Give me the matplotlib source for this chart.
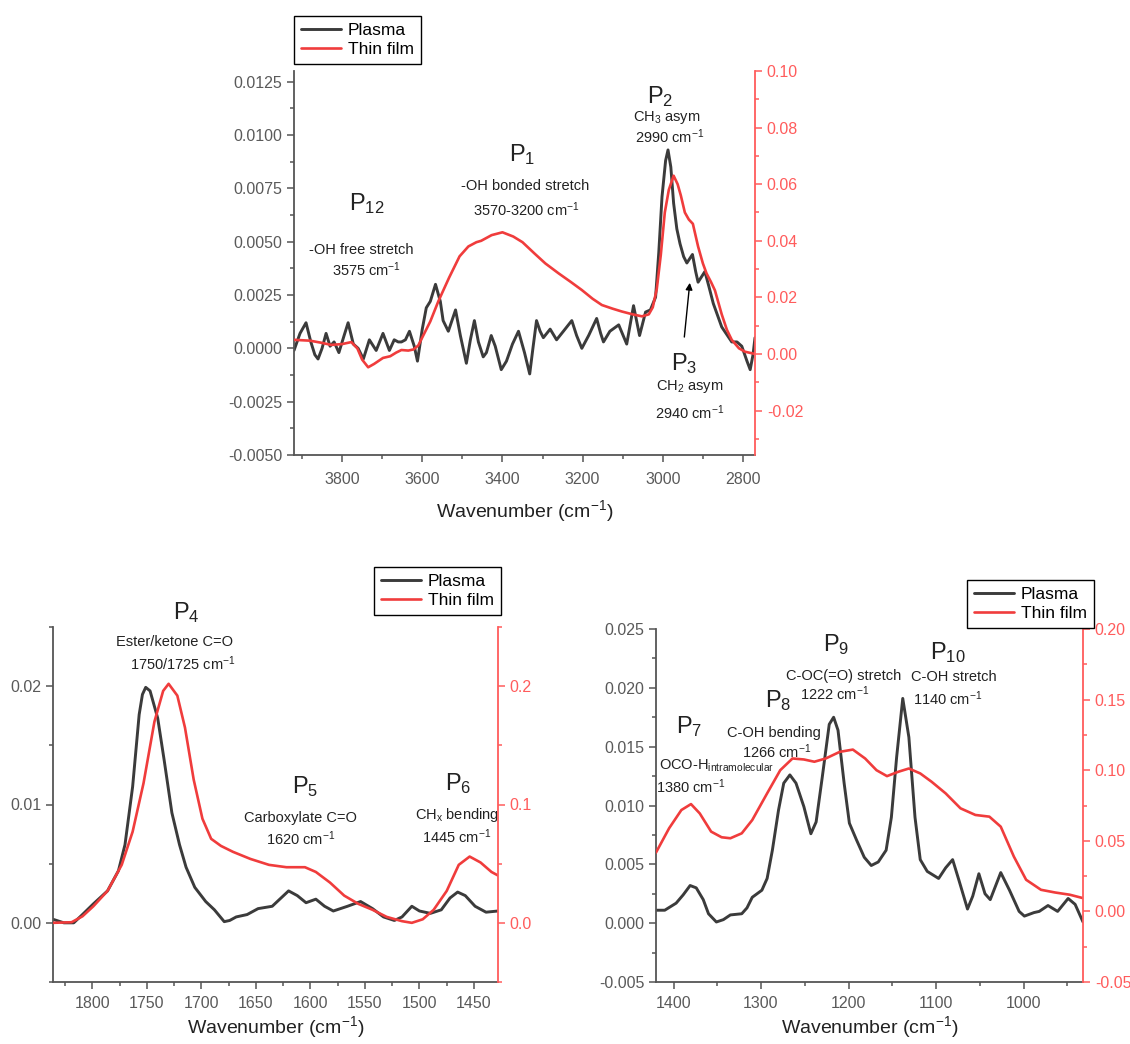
import numpy as np
import matplotlib.pyplot as plt
from matplotlib.ticker import MultipleLocator, FormatStrFormatter

plt.rcParams['font.family'] = ['Liberation Sans', 'DejaVu Sans']
plt.rcParams['mathtext.fontset'] = 'custom'
plt.rcParams['mathtext.rm'] = 'Liberation Sans'
plt.rcParams['mathtext.it'] = 'Liberation Sans:italic'
plt.rcParams['axes.unicode_minus'] = False

# ---- top panel: 3920-2770 cm-1 ----
top_wn_plasma = [3920, 3905, 3890, 3878, 3868, 3860, 3850, 3840, 3830, 3820, 3808, 3795,
                 3785, 3772, 3760, 3747, 3732, 3715, 3698, 3682, 3670, 3660, 3652, 3642,
                 3632, 3620, 3612, 3600, 3590, 3580, 3567, 3555, 3548, 3535, 3517, 3505,
                 3490, 3480, 3470, 3460, 3448, 3440, 3428, 3418, 3403, 3390, 3375, 3360,
                 3345, 3332, 3324, 3315, 3306, 3298, 3281, 3265, 3248, 3227, 3215, 3202,
                 3185, 3165, 3155, 3148, 3132, 3110, 3090, 3073, 3058, 3043, 3031, 3018,
                 3010, 3002, 2993, 2987, 2980, 2973, 2965, 2957, 2948, 2940, 2926, 2918,
                 2912, 2895, 2885, 2874, 2853, 2828, 2815, 2803, 2790, 2782, 2775, 2770]
top_plasma = [-0.0001, 0.0007, 0.0012, 0.0003, -0.0003, -0.0005, 0.0000, 0.0007, 0.0001,
              0.0003, -0.0002, 0.0006, 0.0012, 0.0002, 0.0000, -0.0005, 0.0004, -0.0001,
              0.0007, -0.0001, 0.0004, 0.0003, 0.0003, 0.0004, 0.0008, 0.0001, -0.0006,
              0.0009, 0.0019, 0.0022, 0.0030, 0.0022, 0.0013, 0.0008, 0.0018, 0.0006,
              -0.0007, 0.0004, 0.0013, 0.0003, -0.0004, -0.0002, 0.0006, 0.0001, -0.0010,
              -0.0006, 0.0002, 0.0008, -0.0002, -0.0012, 0.0000, 0.0013, 0.0008, 0.0005,
              0.0009, 0.0004, 0.0008, 0.0013, 0.0006, 0.0000, 0.0006, 0.0014, 0.0007,
              0.0003, 0.0008, 0.0011, 0.0002, 0.0020, 0.0006, 0.0017, 0.0018, 0.0024,
              0.0045, 0.0071, 0.0088, 0.0093, 0.0085, 0.0068, 0.0056, 0.0049, 0.0043,
              0.0040, 0.0044, 0.0036, 0.0031, 0.0036, 0.0029, 0.0021, 0.0010, 0.0003,
              0.0003, 0.0001, -0.0006, -0.0010, -0.0003, 0.0005]
top_wn_film = [3920, 3880, 3853, 3827, 3800, 3777, 3762, 3750, 3735, 3720, 3698, 3680,
               3665, 3652, 3635, 3622, 3610, 3597, 3580, 3560, 3533, 3507, 3485, 3465,
               3453, 3427, 3400, 3373, 3350, 3320, 3293, 3260, 3230, 3202, 3175, 3152,
               3125, 3102, 3075, 3052, 3035, 3025, 3015, 3005, 2995, 2985, 2973, 2963,
               2955, 2945, 2935, 2925, 2912, 2900, 2891, 2880, 2870, 2853, 2840, 2828,
               2810, 2795, 2770]
top_film = [0.0050, 0.0047, 0.0040, 0.0032, 0.0035, 0.0042, 0.0020, -0.0020, -0.0047,
            -0.0035, -0.0014, -0.0008, 0.0005, 0.0014, 0.0012, 0.0016, 0.0030, 0.0067,
            0.0115, 0.0186, 0.0270, 0.0345, 0.0380, 0.0395, 0.0400, 0.0420, 0.0430,
            0.0415, 0.0395, 0.0355, 0.0320, 0.0285, 0.0255, 0.0226, 0.0195, 0.0173,
            0.0160, 0.0150, 0.0140, 0.0133, 0.0140, 0.0165, 0.0230, 0.0350, 0.0500,
            0.0580, 0.0630, 0.0600, 0.0560, 0.0500, 0.0475, 0.0460, 0.0380, 0.0320,
            0.0285, 0.0255, 0.0225, 0.0140, 0.0085, 0.0050, 0.0020, 0.0008, 0.0000]

# ---- bottom-left panel: 1836-1428 cm-1 ----
bl_wn_plasma = [1836, 1826, 1817, 1809, 1799, 1786, 1776, 1770, 1763, 1757, 1754, 1751,
                1747, 1740, 1734, 1727, 1720, 1714, 1706, 1696, 1688, 1679, 1674, 1668,
                1658, 1648, 1635, 1620, 1612, 1604, 1595, 1587, 1579, 1566, 1554, 1543,
                1533, 1523, 1516, 1507, 1500, 1490, 1480, 1472, 1465, 1458, 1449, 1439,
                1428]
bl_plasma = [0.0003, 0.0000, 0.0000, 0.0007, 0.0016, 0.0027, 0.0044, 0.0066, 0.0115,
             0.0176, 0.0193, 0.0199, 0.0196, 0.0173, 0.0137, 0.0093, 0.0066, 0.0047,
             0.0030, 0.0018, 0.0011, 0.0001, 0.0002, 0.0005, 0.0007, 0.0012, 0.0014,
             0.0027, 0.0023, 0.0017, 0.0020, 0.0014, 0.0010, 0.0014, 0.0018, 0.0012,
             0.0005, 0.0002, 0.0005, 0.0014, 0.0010, 0.0008, 0.0011, 0.0021, 0.0026,
             0.0023, 0.0014, 0.0009, 0.0010]
bl_wn_film = [1836, 1819, 1809, 1799, 1786, 1773, 1763, 1753, 1743, 1735, 1730, 1722,
              1715, 1707, 1699, 1691, 1682, 1671, 1655, 1638, 1622, 1605, 1595, 1582,
              1569, 1556, 1543, 1530, 1516, 1507, 1497, 1487, 1475, 1464, 1454, 1444,
              1434, 1428]
bl_film = [0.000, 0.0005, 0.0055, 0.014, 0.027, 0.049, 0.077, 0.118, 0.170, 0.196, 0.202,
           0.192, 0.165, 0.121, 0.088, 0.071, 0.065, 0.060, 0.054, 0.049, 0.047, 0.047,
           0.043, 0.034, 0.023, 0.016, 0.011, 0.005, 0.0014, 0.000, 0.003, 0.011, 0.027,
           0.049, 0.056, 0.051, 0.043, 0.040]

# ---- bottom-right panel: 1420-932 cm-1 ----
br_wn_plasma = [1420, 1410, 1397, 1389, 1381, 1374, 1366, 1360, 1351, 1343, 1335, 1322,
                1316, 1310, 1299, 1293, 1287, 1280, 1274, 1267, 1260, 1251, 1243, 1237,
                1230, 1222, 1217, 1212, 1205, 1199, 1191, 1182, 1174, 1166, 1157, 1151,
                1145, 1138, 1131, 1124, 1118, 1110, 1097, 1089, 1081, 1074, 1064, 1058,
                1051, 1044, 1038, 1026, 1016, 1005, 999, 988, 982, 972, 961, 949, 941, 932]
br_plasma = [0.0011, 0.0011, 0.0017, 0.0024, 0.0032, 0.0030, 0.0020, 0.0008, 0.0001,
             0.0003, 0.0007, 0.0008, 0.0013, 0.0022, 0.0028, 0.0038, 0.0062, 0.0096,
             0.0119, 0.0126, 0.0119, 0.0099, 0.0076, 0.0086, 0.0124, 0.0169, 0.0175,
             0.0164, 0.0119, 0.0085, 0.0071, 0.0056, 0.0049, 0.0052, 0.0062, 0.0090,
             0.0141, 0.0191, 0.0158, 0.0090, 0.0054, 0.0044, 0.0038, 0.0047, 0.0054,
             0.0037, 0.0012, 0.0023, 0.0042, 0.0025, 0.0020, 0.0043, 0.0028, 0.0010,
             0.0006, 0.0009, 0.0010, 0.0015, 0.0010, 0.0021, 0.0016, 0.0001]
br_wn_film = [1420, 1405, 1391, 1380, 1370, 1357, 1345, 1335, 1322, 1310, 1293, 1278,
              1264, 1251, 1239, 1226, 1210, 1195, 1181, 1168, 1156, 1143, 1131, 1118,
              1105, 1089, 1072, 1055, 1039, 1026, 1011, 997, 980, 964, 947, 932]
br_film = [0.0417, 0.0589, 0.0718, 0.0760, 0.0694, 0.0565, 0.0525, 0.0518, 0.0553,
           0.0647, 0.0836, 0.1000, 0.1083, 0.1076, 0.1060, 0.1083, 0.1130, 0.1146,
           0.1083, 0.1000, 0.0958, 0.0989, 0.1012, 0.0977, 0.0918, 0.0836, 0.0730,
           0.0683, 0.0671, 0.0600, 0.0388, 0.0224, 0.0153, 0.0134, 0.0118, 0.0094]

W, H = 1130, 1044
fig = plt.figure(figsize=(W / 100, H / 100), dpi=100)

GRAY = '#3b3b3b'
RED = '#f03c3c'
TICK_GRAY = '#5a5a5a'
AX_RED = '#ff5c5c'


def rect(l, t, r, b):
    return [l / W, 1 - b / H, (r - l) / W, (b - t) / H]


def panel(box, xlim, xmaj, xmin, yl, ylmaj, ylmin, lfmt, yr, yrmaj, yrmin, rfmt,
          wn_p, p, wn_f, f, xpad, lpad):
    ax = fig.add_axes(rect(*box))
    ax2 = ax.twinx()
    l1, = ax.plot(wn_p, p, color=GRAY, lw=2.1, label='Plasma',
                  solid_joinstyle='round', solid_capstyle='round')
    l2, = ax2.plot(wn_f, f, color=RED, lw=1.9, label='Thin film',
                   solid_joinstyle='round', solid_capstyle='round')
    ax.set_xlim(*xlim)
    ax.set_ylim(*yl)
    ax2.set_ylim(*yr)
    ax.xaxis.set_major_locator(MultipleLocator(xmaj))
    ax.xaxis.set_minor_locator(MultipleLocator(xmin))
    ax.yaxis.set_major_locator(MultipleLocator(ylmaj))
    ax.yaxis.set_minor_locator(MultipleLocator(ylmin))
    ax.yaxis.set_major_formatter(FormatStrFormatter(lfmt))
    ax2.yaxis.set_major_locator(MultipleLocator(yrmaj))
    ax2.yaxis.set_minor_locator(MultipleLocator(yrmin))
    ax2.yaxis.set_major_formatter(FormatStrFormatter(rfmt))
    for s in ['top', 'right']:
        ax.spines[s].set_visible(False)
    for s in ['top', 'left', 'bottom']:
        ax2.spines[s].set_visible(False)
    for s in ['left', 'bottom']:
        ax.spines[s].set_color('#555555')
        ax.spines[s].set_linewidth(1.3)
    ax2.spines['right'].set_color(AX_RED)
    ax2.spines['right'].set_linewidth(1.3)
    ax.tick_params(which='both', direction='out', colors='#555555', labelcolor=TICK_GRAY,
                   labelsize=11.5, width=1.1)
    ax.tick_params(axis='x', pad=xpad)
    ax.tick_params(which='major', length=5)
    ax.tick_params(which='minor', length=3)
    ax2.tick_params(which='both', direction='out', colors=AX_RED, labelcolor=AX_RED,
                    labelsize=11.5, width=1.1)
    ax2.tick_params(which='major', length=5)
    ax2.tick_params(which='minor', length=3)
    ax.set_xlabel('Wavenumber (cm$^{-1}$)', fontsize=14, color='#222222', labelpad=lpad)
    return ax, ax2, [l1, l2]


def legend(ax2, handles, l, t):
    ax2.legend(handles=handles, loc='upper left', bbox_to_anchor=(l / W, 1 - t / H),
               bbox_transform=fig.transFigure, fontsize=12.5, frameon=True,
               fancybox=False, edgecolor='black', framealpha=1, borderpad=0.4,
               labelspacing=0.2, handlelength=2.3, handletextpad=0.4, borderaxespad=0)
    ax2.get_legend().get_frame().set_linewidth(1.0)


def label(ax, x, y, s, size=10.5):
    ax.text(x, y, s, ha='center', va='center', fontsize=size, color='#222222',
            clip_on=False)


# top
ax, ax2, h = panel((294, 71, 755, 455), (3920, 2770), 200, 100,
                   (-0.005, 0.013), 0.0025, 0.00125, '%.4f',
                   (-0.0357, 0.10), 0.02, 0.01, '%.2f',
                   top_wn_plasma, top_plasma, top_wn_film, top_film, 7, 8)
legend(ax2, h, 294, 16)
label(ax, 3738, 0.0068, 'P$_{12}$', 17)
label(ax, 3751, 0.0046, '-OH free stretch')
label(ax, 3738, 0.0037, '3575 cm$^{-1}$')
label(ax, 3351, 0.0091, 'P$_1$', 17)
label(ax, 3344, 0.0076, '-OH bonded stretch')
label(ax, 3340, 0.0065, '3570-3200 cm$^{-1}$')
label(ax, 3007, 0.0118, 'P$_2$', 17)
label(ax, 2990, 0.0108, 'CH$_3$ asym')
label(ax, 2983, 0.0099, '2990 cm$^{-1}$')
label(ax, 2947, -0.0007, 'P$_3$', 17)
label(ax, 2932, -0.0018, 'CH$_2$ asym')
label(ax, 2932, -0.0030, '2940 cm$^{-1}$')
ax.annotate('', xy=(2932, 0.0032), xytext=(2947, 0.0004),
            arrowprops=dict(arrowstyle='-|>', color='black', lw=1.0, mutation_scale=10))

# bottom left
ax, ax2, h = panel((53, 627, 498, 982), (1836, 1428), 50, 25,
                   (-0.005, 0.025), 0.01, 0.005, '%.2f',
                   (-0.05, 0.25), 0.1, 0.05, '%.1f',
                   bl_wn_plasma, bl_plasma, bl_wn_film, bl_film, 5, 2)
legend(ax2, h, 374, 567)
label(ax, 1714, 0.0262, 'P$_4$', 17)
label(ax, 1725, 0.0237, 'Ester/ketone C=O')
label(ax, 1717, 0.0219, '1750/1725 cm$^{-1}$')
label(ax, 1605, 0.0115, 'P$_5$', 17)
label(ax, 1609, 0.0089, 'Carboxylate C=O')
label(ax, 1609, 0.0071, '1620 cm$^{-1}$')
label(ax, 1464, 0.0118, 'P$_6$', 17)
label(ax, 1466, 0.0091, 'CH$_\\mathrm{x}$ bending')
label(ax, 1466, 0.0073, '1445 cm$^{-1}$')

# bottom right
ax, ax2, h = panel((656, 629, 1083, 982), (1420, 932), 100, 50,
                   (-0.005, 0.025), 0.005, 0.0025, '%.3f',
                   (-0.05, 0.20), 0.05, 0.025, '%.2f',
                   br_wn_plasma, br_plasma, br_wn_film, br_film, 5, 2)
legend(ax2, h, 967, 580)
label(ax, 1382, 0.0167, 'P$_7$', 17)
label(ax, 1351, 0.0134, 'OCO-H$_\\mathrm{intramolecular}$')
label(ax, 1380, 0.0116, '1380 cm$^{-1}$')
label(ax, 1280, 0.0189, 'P$_8$', 17)
label(ax, 1285, 0.0162, 'C-OH bending')
label(ax, 1282, 0.0146, '1266 cm$^{-1}$')
label(ax, 1214, 0.0237, 'P$_9$', 17)
label(ax, 1205, 0.0210, 'C-OC(=O) stretch')
label(ax, 1216, 0.0195, '1222 cm$^{-1}$')
label(ax, 1087, 0.0230, 'P$_{10}$', 17)
label(ax, 1080, 0.0209, 'C-OH stretch')
label(ax, 1087, 0.0191, '1140 cm$^{-1}$')

fig.savefig('out.png', dpi=100, facecolor='white')
